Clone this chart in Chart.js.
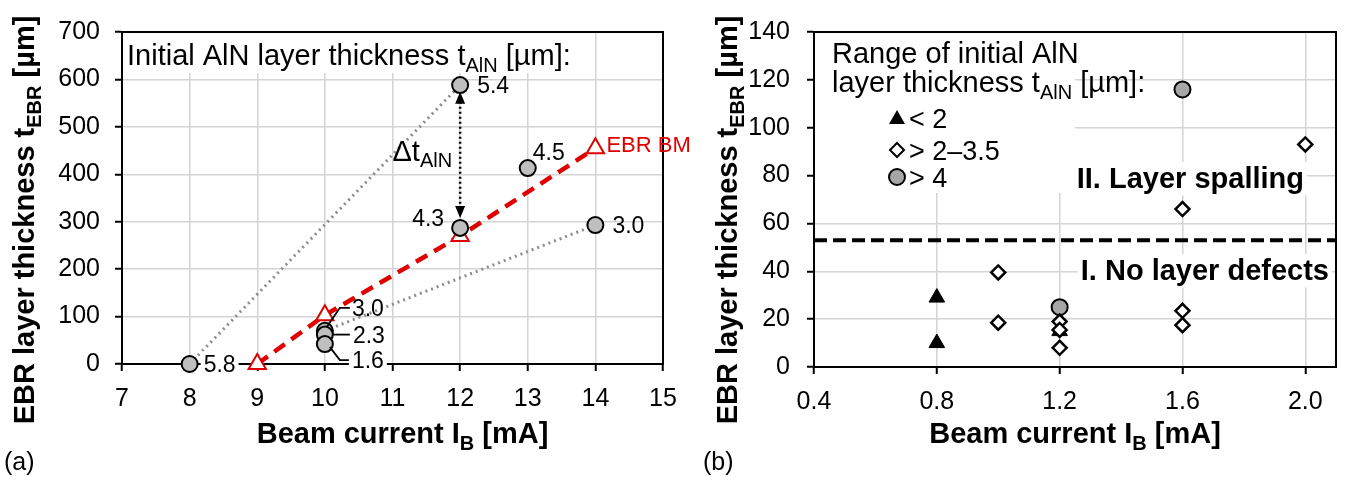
<!DOCTYPE html>
<html>
<head>
<meta charset="utf-8">
<script src="https://cdn.jsdelivr.net/npm/chart.js@4.4.1/dist/chart.umd.min.js"></script>
<style>
  html, body { margin: 0; padding: 0; background: #fff; }
  #wrap { position: relative; width: 1346px; height: 477px; overflow: hidden; }
  #chartA { position: absolute; left: 0; top: 0; }
  #chartB { position: absolute; left: 680px; top: 0; }
</style>
</head>
<body>
<div id="wrap">
  <canvas id="chartA" width="720" height="477"></canvas>
  <canvas id="chartB" width="666" height="477"></canvas>
</div>
<script>
// ---- (a) EBR layer thickness vs beam current ----
var xTicksA = [7, 8, 9, 10, 11, 12, 13, 14, 15]
var yTicksA = [0, 100, 200, 300, 400, 500, 600, 700]

var ebrCurrent = [9, 10, 12, 14]
var ebrThickness = [0, 103, 270, 455]

var sampleCurrent = [8, 10, 10, 10, 12, 12, 13, 14]
var sampleThickness = [0, 70, 62, 42, 287, 588, 413, 293]
var sampleAlN = ['5.8', '3.0', '2.3', '1.6', '4.3', '5.4', '4.5', '3.0']

var guide1Current = [8, 12]
var guide1Thickness = [0, 588]
var guide2Current = [10, 14]
var guide2Thickness = [70, 293]

var deltaCurrent = 12
var deltaFrom = 574
var deltaTo = 308

// ---- (b) ranges of initial AlN thickness ----
var xTicksB = [0.4, 0.8, 1.2, 1.6, 2.0]
var yTicksB = [0, 20, 40, 60, 80, 100, 120, 140]

var thinCurrent = [0.8, 0.8, 1.2]
var thinThickness = [29, 10, 15]
var midCurrent = [1.0, 1.0, 1.2, 1.2, 1.2, 1.6, 1.6, 1.6, 2.0]
var midThickness = [39.5, 18.5, 19, 15.5, 8, 23.5, 17.5, 66, 93]
var thickCurrent = [1.2, 1.6]
var thickThickness = [25, 116]
var spallingLimit = 53

var FONT = "'Liberation Sans', Arial, sans-serif"
var TICK = 25
var TITLE = 29
var NOTE = 29
var LABEL = 23

function pts(xs, ys) {
  return xs.map(function (x, i) { return { x: x, y: ys[i] } })
}

function setFont(ctx, size, bold) {
  ctx.font = (bold ? 'bold ' : '') + size + 'px ' + FONT
}

// parts: [[text, isSubscript], ...]; y is the visual middle of the capitals
function richWidth(ctx, parts, size, bold) {
  var w = 0
  parts.forEach(function (p) {
    setFont(ctx, p[1] ? Math.round(size * 0.68) : size, bold)
    w += ctx.measureText(p[0]).width
  })
  return w
}

function drawRich(ctx, parts, x, y, size, bold, align, color, bg) {
  var w = richWidth(ctx, parts, size, bold)
  var cx = align === 'center' ? x - w / 2 : (align === 'right' ? x - w : x)
  if (bg) {
    ctx.fillStyle = '#fff'
    ctx.fillRect(cx - 3, y - size * 0.55, w + 6, size * 1.15)
  }
  ctx.fillStyle = color || '#000'
  ctx.textAlign = 'left'
  ctx.textBaseline = 'alphabetic'
  var base = y + size * 0.36
  parts.forEach(function (p) {
    setFont(ctx, p[1] ? Math.round(size * 0.68) : size, bold)
    ctx.fillText(p[0], cx, base + (p[1] ? size * 0.24 : 0))
    cx += ctx.measureText(p[0]).width
  })
  return w
}

function drawRotated(ctx, parts, x, y, size) {
  ctx.save()
  ctx.translate(x, y)
  ctx.rotate(-Math.PI / 2)
  drawRich(ctx, parts, 0, 0, size, true, 'center')
  ctx.restore()
}

function axisStyle(min, max, ticks, fmt, padding, fitSize, isX) {
  return {
    type: 'linear',
    min: min,
    max: max,
    afterBuildTicks: function (s) { s.ticks = ticks.map(function (v) { return { value: v } }) },
    afterFit: function (s) { if (isX) { s.height = fitSize } else { s.width = fitSize } },
    ticks: {
      color: '#000',
      padding: padding,
      font: { family: FONT, size: TICK },
      autoSkip: false,
      maxRotation: 0,
      callback: fmt
    },
    grid: { color: '#d4d4d4', lineWidth: 1.5, tickColor: '#000', tickLength: 7, tickWidth: 2 },
    border: { color: '#000', width: 2 }
  }
}

function frame(chart) {
  var a = chart.chartArea
  var ctx = chart.ctx
  ctx.save()
  ctx.strokeStyle = '#000'
  ctx.lineWidth = 2
  ctx.strokeRect(a.left, a.top, a.right - a.left, a.bottom - a.top)
  ctx.restore()
}

var thickness = [['EBR layer thickness t', false], ['EBR', true], [' [\u00b5m]', false]]
var current = [['Beam current I', false], ['B', true], [' [mA]', false]]

// label placement next to the gray circles of (a), in pixels
var sampleLabelStyle = [
  { dx: 14, dy: 0, bg: true },
  { dx: 27, dy: -23, leader: [[2, -4], [15, -23], [25, -23]] },
  { dx: 28, dy: 0, leader: [[8, 0], [25, 0]] },
  { dx: 27, dy: 16, bg: true, leader: [[5, 3], [15, 16], [25, 16]] },
  { dx: -16, dy: -10, right: true },
  { dx: 17, dy: 0 },
  { dx: 5, dy: -16 },
  { dx: 17, dy: 0 }
]

var decorA = {
  id: 'decorA',
  beforeDatasetsDraw: function (chart) {
    var ctx = chart.ctx, a = chart.chartArea
    ctx.save()
    ctx.fillStyle = '#fff'
    ctx.fillRect(a.left + 1, a.top + 1, 452, 40)
    ctx.restore()
  },
  afterDraw: function (chart) {
    var ctx = chart.ctx, a = chart.chartArea
    var sx = chart.scales.x, sy = chart.scales.y
    ctx.save()

    // point labels with leaders
    sampleCurrent.forEach(function (c, i) {
      var st = sampleLabelStyle[i]
      var px = sx.getPixelForValue(c), py = sy.getPixelForValue(sampleThickness[i])
      if (st.leader) {
        ctx.strokeStyle = '#000'
        ctx.lineWidth = 1.8
        ctx.beginPath()
        st.leader.forEach(function (p, k) {
          if (k === 0) ctx.moveTo(px + p[0], py + p[1]); else ctx.lineTo(px + p[0], py + p[1])
        })
        ctx.stroke()
      }
      drawRich(ctx, [[sampleAlN[i], false]], px + st.dx, py + st.dy, LABEL, false, st.right ? 'right' : 'left', '#000', st.bg)
    })

    // EBR BM label
    var ex = sx.getPixelForValue(ebrCurrent[3]), ey = sy.getPixelForValue(ebrThickness[3])
    drawRich(ctx, [['EBR BM', false]], ex + 11, ey - 4, 22, false, 'left', '#e00000')

    // delta arrow
    var dx = sx.getPixelForValue(deltaCurrent)
    var y1 = sy.getPixelForValue(deltaFrom), y2 = sy.getPixelForValue(deltaTo)
    ctx.strokeStyle = '#000'
    ctx.lineWidth = 2.5
    ctx.setLineDash([2, 3])
    ctx.beginPath()
    ctx.moveTo(dx, y1 + 10)
    ctx.lineTo(dx, y2 - 10)
    ctx.stroke()
    ctx.setLineDash([])
    ctx.fillStyle = '#000'
    ctx.beginPath()
    ctx.moveTo(dx, y1); ctx.lineTo(dx - 5, y1 + 12); ctx.lineTo(dx + 5, y1 + 12); ctx.closePath()
    ctx.moveTo(dx, y2); ctx.lineTo(dx - 5, y2 - 12); ctx.lineTo(dx + 5, y2 - 12); ctx.closePath()
    ctx.fill()
    drawRich(ctx, [['\u0394t', false], ['AlN', true]], dx - 8, sy.getPixelForValue((deltaFrom + deltaTo) / 2 + 10), 29, false, 'right')

    // legend title
    drawRich(ctx, [['Initial AlN layer thickness t', false], ['AlN', true], [' [\u00b5m]:', false]], a.left + 5, 55, 29, false, 'left')

    // axis titles
    drawRich(ctx, current, (a.left + a.right) / 2 + 10, 433, TITLE, true, 'center')
    drawRotated(ctx, thickness, 24, 220, TITLE)
    drawRich(ctx, [['(a)', false]], 4, 461, 25, false, 'left')
    ctx.restore()
  }
}

var decorB = {
  id: 'decorB',
  afterDraw: function (chart) {
    var ctx = chart.ctx, a = chart.chartArea
    ctx.save()
    // legend
    var lx = a.left + 18
    ctx.fillStyle = '#fff'
    ctx.fillRect(a.left + 1, a.top + 1, 260, 160)
    drawRich(ctx, [['Range of initial AlN', false]], lx, 53, 29, false, 'left')
    drawRich(ctx, [['layer thickness t', false], ['AlN', true], [' [\u00b5m]:', false]], lx, 82, 29, false, 'left')
    var mx = a.left + 83, tx = a.left + 95
    // triangle
    ctx.fillStyle = '#000'
    ctx.beginPath(); ctx.moveTo(mx, 110); ctx.lineTo(mx - 8, 124); ctx.lineTo(mx + 8, 124); ctx.closePath(); ctx.fill()
    drawRich(ctx, [['< 2', false]], tx, 118, 27, false, 'left')
    // diamond
    ctx.strokeStyle = '#000'; ctx.lineWidth = 2; ctx.fillStyle = '#fff'
    ctx.beginPath(); ctx.moveTo(mx, 143); ctx.lineTo(mx + 7, 150); ctx.lineTo(mx, 157); ctx.lineTo(mx - 7, 150); ctx.closePath(); ctx.fill(); ctx.stroke()
    drawRich(ctx, [['> 2\u20133.5', false]], tx, 150, 27, false, 'left')
    // circle
    ctx.fillStyle = '#a6a6a6'
    ctx.beginPath(); ctx.arc(mx, 177, 8, 0, Math.PI * 2); ctx.fill(); ctx.stroke()
    drawRich(ctx, [['> 4', false]], tx, 177, 27, false, 'left')

    drawRich(ctx, [['II. Layer spalling', false]], a.right - 32, 178, NOTE, true, 'right', '#000', true)
    drawRich(ctx, [['I. No layer defects', false]], a.right - 7, 270, NOTE, true, 'right', '#000', true)

    drawRich(ctx, current, (a.left + a.right) / 2, 433, TITLE, true, 'center')
    drawRotated(ctx, thickness, 47, 220, TITLE)
    drawRich(ctx, [['(b)', false]], 23, 461, 25, false, 'left')
    ctx.restore()
  }
}

// frame under the marks, over the grid
var framePlugin = {
  id: 'framePlugin',
  beforeDatasetsDraw: function (chart) { frame(chart) }
}

var common = {
  responsive: false,
  animation: false,
  events: [],
  plugins: { legend: { display: false }, tooltip: { enabled: false } }
}

var chartA = new Chart(document.getElementById('chartA'), {
  type: 'scatter',
  data: {
    datasets: [
      {
        data: pts(guide1Current, guide1Thickness), showLine: true, order: 5, clip: false,
        borderColor: '#8c8c8c', borderWidth: 3, borderDash: [2, 4], pointRadius: 0
      },
      {
        data: pts(guide2Current, guide2Thickness), showLine: true, order: 5, clip: false,
        borderColor: '#8c8c8c', borderWidth: 3, borderDash: [2, 4], pointRadius: 0
      },
      {
        data: pts(ebrCurrent, ebrThickness), showLine: true, order: 2, clip: false,
        borderColor: '#e00000', borderWidth: 4.5, borderDash: [13, 8],
        pointStyle: 'triangle', pointRadius: 10, pointBackgroundColor: '#fff',
        pointBorderColor: '#e00000', pointBorderWidth: 2
      },
      {
        data: pts(sampleCurrent, sampleThickness), order: 1, clip: false,
        pointStyle: 'circle', pointRadius: 8, backgroundColor: '#bfbfbf',
        borderColor: '#000', borderWidth: 2
      }
    ]
  },
  options: Object.assign({}, common, {
    layout: { padding: { top: 32, right: 57, left: 0, bottom: 0 } },
    scales: {
      x: axisStyle(7, 15, xTicksA, function (v) { return v }, 13, 113, true),
      y: axisStyle(0, 700, yTicksA, function (v) { return v }, 15, 122, false)
    }
  }),
  plugins: [framePlugin, decorA]
})

var chartB = new Chart(document.getElementById('chartB'), {
  type: 'scatter',
  data: {
    datasets: [
      {
        data: [{ x: 0.4, y: spallingLimit }, { x: 2.1, y: spallingLimit }], showLine: true, order: 4,
        borderColor: '#000', borderWidth: 4, borderDash: [13, 6], pointRadius: 0
      },
      {
        data: pts(thinCurrent, thinThickness), order: 3, clip: false,
        pointStyle: 'triangle', pointRadius: 9, backgroundColor: '#000', borderColor: '#000', borderWidth: 1
      },
      {
        data: pts(thickCurrent, thickThickness), order: 2, clip: false,
        pointStyle: 'circle', pointRadius: 8, backgroundColor: '#a6a6a6', borderColor: '#000', borderWidth: 2
      },
      {
        data: pts(midCurrent, midThickness), order: 1, clip: false,
        pointStyle: 'rectRot', pointRadius: 7, backgroundColor: '#fff', borderColor: '#000', borderWidth: 2.5
      }
    ]
  },
  options: Object.assign({}, common, {
    layout: { padding: { top: 32, right: 5, left: 0, bottom: 0 } },
    scales: {
      x: axisStyle(0.4, 2.1, xTicksB, function (v) { return v.toFixed(1) }, 13, 110, true),
      y: axisStyle(0, 140, yTicksB, function (v) { return v }, 17, 134, false)
    }
  }),
  plugins: [framePlugin, decorB]
})
</script>
</body>
</html>
